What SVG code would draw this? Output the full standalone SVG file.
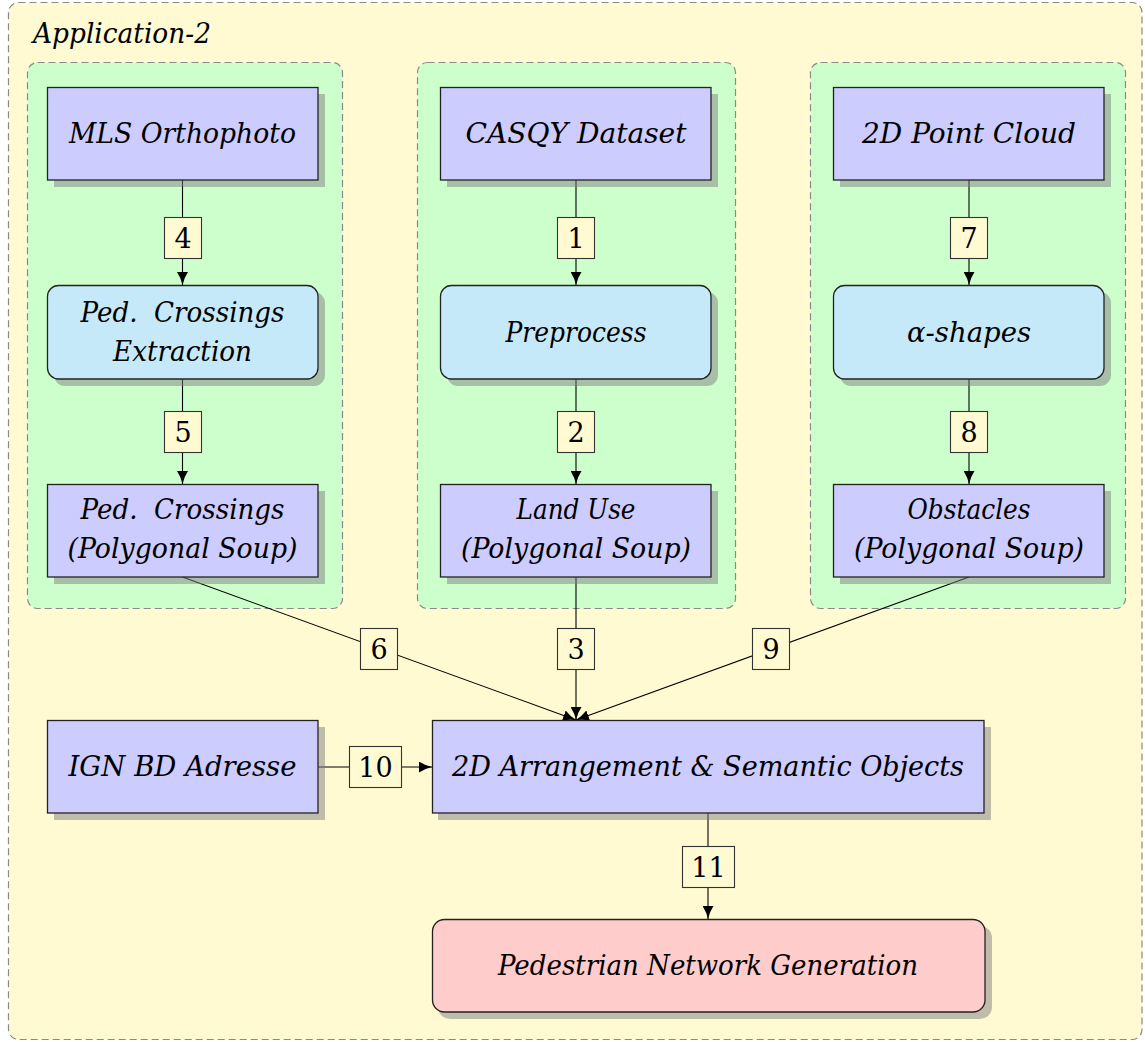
<svg xmlns="http://www.w3.org/2000/svg" width="1145" height="1042" viewBox="0 0 1145 1042">
<defs>
<style>
.bg{fill:#fffad2;stroke:#8a8a8a;stroke-width:1.2;stroke-dasharray:7 4}
.panel{fill:#ccffcc;stroke:#8a8a8a;stroke-width:1.2;stroke-dasharray:7 4}
.sh{fill:#808080;fill-opacity:0.5}
.data{fill:#ccccff;stroke:#222;stroke-width:1.3}
.proc{fill:#c6e9f9;stroke:#222;stroke-width:1.3}
.out{fill:#ffcccc;stroke:#222;stroke-width:1.3}
.t{font-family:'DejaVu Serif','Liberation Serif',serif;font-style:italic;font-size:28px;fill:#000;text-anchor:middle;white-space:pre}
.title{font-family:'DejaVu Serif','Liberation Serif',serif;font-style:italic;font-size:27px;fill:#000}
.lb{fill:#fffad2;stroke:#333;stroke-width:1.1}
.n{font-family:'DejaVu Serif','Liberation Serif',serif;font-size:27px;fill:#000;text-anchor:middle}
.c{fill:none;stroke:#000;stroke-width:1.1}
</style>
<marker id="ah" markerUnits="userSpaceOnUse" viewBox="0 0 13 11" refX="13" refY="5.5" markerWidth="13" markerHeight="11" orient="auto">
<path d="M0,0 Q6,4 13,5.5 Q6,7 0,11 Z" fill="#000"/>
</marker>
</defs>
<rect class="bg" x="8.5" y="2.5" width="1133.5" height="1037" rx="10"/>
<text class="title" x="33" y="43" textLength="178" lengthAdjust="spacingAndGlyphs">Application-2</text>

<rect class="panel" x="27.5" y="62.5" width="315" height="546" rx="10"/>
<rect class="panel" x="417.5" y="62.5" width="318" height="546" rx="10"/>
<rect class="panel" x="810.5" y="62.5" width="315" height="546" rx="10"/>

<g id="connectors">
<line class="c" x1="182.5" y1="180" x2="182.5" y2="217"/>
<line class="c" x1="182.5" y1="258" x2="182.5" y2="285" marker-end="url(#ah)"/>
<line class="c" x1="182.5" y1="379" x2="182.5" y2="411"/>
<line class="c" x1="182.5" y1="452" x2="182.5" y2="484" marker-end="url(#ah)"/>
<line class="c" x1="576" y1="180" x2="576" y2="217"/>
<line class="c" x1="576" y1="258" x2="576" y2="285" marker-end="url(#ah)"/>
<line class="c" x1="576" y1="379" x2="576" y2="411"/>
<line class="c" x1="576" y1="452" x2="576" y2="484" marker-end="url(#ah)"/>
<line class="c" x1="969" y1="180" x2="969" y2="217"/>
<line class="c" x1="969" y1="258" x2="969" y2="285" marker-end="url(#ah)"/>
<line class="c" x1="969" y1="379" x2="969" y2="411"/>
<line class="c" x1="969" y1="452" x2="969" y2="484" marker-end="url(#ah)"/>
<line class="c" x1="182.5" y1="577" x2="576" y2="720" marker-end="url(#ah)"/>
<line class="c" x1="576" y1="577" x2="576" y2="720" marker-end="url(#ah)"/>
<line class="c" x1="969" y1="577" x2="576" y2="720" marker-end="url(#ah)"/>
<line class="c" x1="318" y1="767" x2="432" y2="767" marker-end="url(#ah)"/>
<line class="c" x1="708" y1="813" x2="708" y2="919" marker-end="url(#ah)"/>
<g id="labels">
<rect class="lb" x="164.5" y="217.5" width="37" height="41"/><text class="n" x="183" y="248">4</text>
<rect class="lb" x="164.5" y="411.5" width="37" height="41"/><text class="n" x="183" y="442">5</text>
<rect class="lb" x="557.5" y="217.5" width="37" height="41"/><text class="n" x="576" y="248">1</text>
<rect class="lb" x="557.5" y="411.5" width="37" height="41"/><text class="n" x="576" y="442">2</text>
<rect class="lb" x="950.5" y="217.5" width="37" height="41"/><text class="n" x="969" y="248">7</text>
<rect class="lb" x="950.5" y="411.5" width="37" height="41"/><text class="n" x="969" y="442">8</text>
<rect class="lb" x="360.5" y="628.5" width="37" height="41"/><text class="n" x="379" y="659">6</text>
<rect class="lb" x="557.5" y="628.5" width="37" height="41"/><text class="n" x="576" y="659">3</text>
<rect class="lb" x="752.5" y="628.5" width="37" height="41"/><text class="n" x="771" y="659">9</text>
<rect class="lb" x="349.5" y="746.5" width="52" height="41"/><text class="n" x="375.5" y="777">10</text>
<rect class="lb" x="682.5" y="846.5" width="52" height="41"/><text class="n" x="708.5" y="877">11</text>
</g>
</g>

<g id="mls">
<rect class="sh" x="54" y="94" width="271" height="93"/>
<rect class="data" x="47.5" y="87.5" width="270.5" height="92.5"/>
<text class="t" x="182.5" y="143" textLength="227" lengthAdjust="spacingAndGlyphs">MLS Orthophoto</text>
</g>
<g id="casqy">
<rect class="sh" x="447" y="94" width="271" height="93"/>
<rect class="data" x="440.5" y="87.5" width="270.5" height="92.5"/>
<text class="t" x="576" y="143" textLength="221" lengthAdjust="spacingAndGlyphs">CASQY Dataset</text>
</g>
<g id="pointcloud">
<rect class="sh" x="840" y="94" width="271" height="93"/>
<rect class="data" x="833.5" y="87.5" width="270.5" height="92.5"/>
<text class="t" x="969" y="143" textLength="214" lengthAdjust="spacingAndGlyphs">2D Point Cloud</text>
</g>

<g id="pedextraction">
<rect class="sh" x="54" y="292" width="271" height="94" rx="11"/>
<rect class="proc" x="47.5" y="285.5" width="270.5" height="93.5" rx="11"/>
<text class="t" x="182.5" y="322" textLength="204" lengthAdjust="spacingAndGlyphs">Ped.  Crossings</text>
<text class="t" x="182.5" y="361" textLength="139" lengthAdjust="spacingAndGlyphs">Extraction</text>
</g>
<g id="preprocess">
<rect class="sh" x="447" y="292" width="271" height="94" rx="11"/>
<rect class="proc" x="440.5" y="285.5" width="270.5" height="93.5" rx="11"/>
<text class="t" x="576" y="342" textLength="141" lengthAdjust="spacingAndGlyphs">Preprocess</text>
</g>
<g id="alphashapes">
<rect class="sh" x="840" y="292" width="271" height="94" rx="11"/>
<rect class="proc" x="833.5" y="285.5" width="270.5" height="93.5" rx="11"/>
<text class="t" x="969" y="342" textLength="124" lengthAdjust="spacingAndGlyphs">α-shapes</text>
</g>

<g id="pedcrossings">
<rect class="sh" x="54" y="491" width="271" height="93"/>
<rect class="data" x="47.5" y="484.5" width="270.5" height="92.5"/>
<text class="t" x="182.5" y="519" textLength="204" lengthAdjust="spacingAndGlyphs">Ped.  Crossings</text>
<text class="t" x="182.5" y="558" textLength="230" lengthAdjust="spacingAndGlyphs">(Polygonal Soup)</text>
</g>
<g id="landuse">
<rect class="sh" x="447" y="491" width="271" height="93"/>
<rect class="data" x="440.5" y="484.5" width="270.5" height="92.5"/>
<text class="t" x="576" y="519" textLength="119" lengthAdjust="spacingAndGlyphs">Land Use</text>
<text class="t" x="576" y="558" textLength="230" lengthAdjust="spacingAndGlyphs">(Polygonal Soup)</text>
</g>
<g id="obstacles">
<rect class="sh" x="840" y="491" width="271" height="93"/>
<rect class="data" x="833.5" y="484.5" width="270.5" height="92.5"/>
<text class="t" x="969" y="519" textLength="123" lengthAdjust="spacingAndGlyphs">Obstacles</text>
<text class="t" x="969" y="558" textLength="230" lengthAdjust="spacingAndGlyphs">(Polygonal Soup)</text>
</g>

<g id="ign">
<rect class="sh" x="54" y="727" width="271" height="93"/>
<rect class="data" x="47.5" y="720.5" width="270.5" height="92.5"/>
<text class="t" x="182.5" y="776" textLength="228" lengthAdjust="spacingAndGlyphs">IGN BD Adresse</text>
</g>
<g id="arrangement">
<rect class="sh" x="438" y="727" width="553" height="93"/>
<rect class="data" x="432.5" y="720.5" width="551.5" height="92.5"/>
<text class="t" x="708" y="776" textLength="512" lengthAdjust="spacingAndGlyphs">2D Arrangement &amp; Semantic Objects</text>
</g>
<g id="pedestrian">
<rect class="sh" x="438" y="926" width="554" height="93" rx="12"/>
<rect class="out" x="432.5" y="919.5" width="552.5" height="92.5" rx="12"/>
<text class="t" x="708" y="975" textLength="420" lengthAdjust="spacingAndGlyphs">Pedestrian Network Generation</text>
</g>
</svg>
